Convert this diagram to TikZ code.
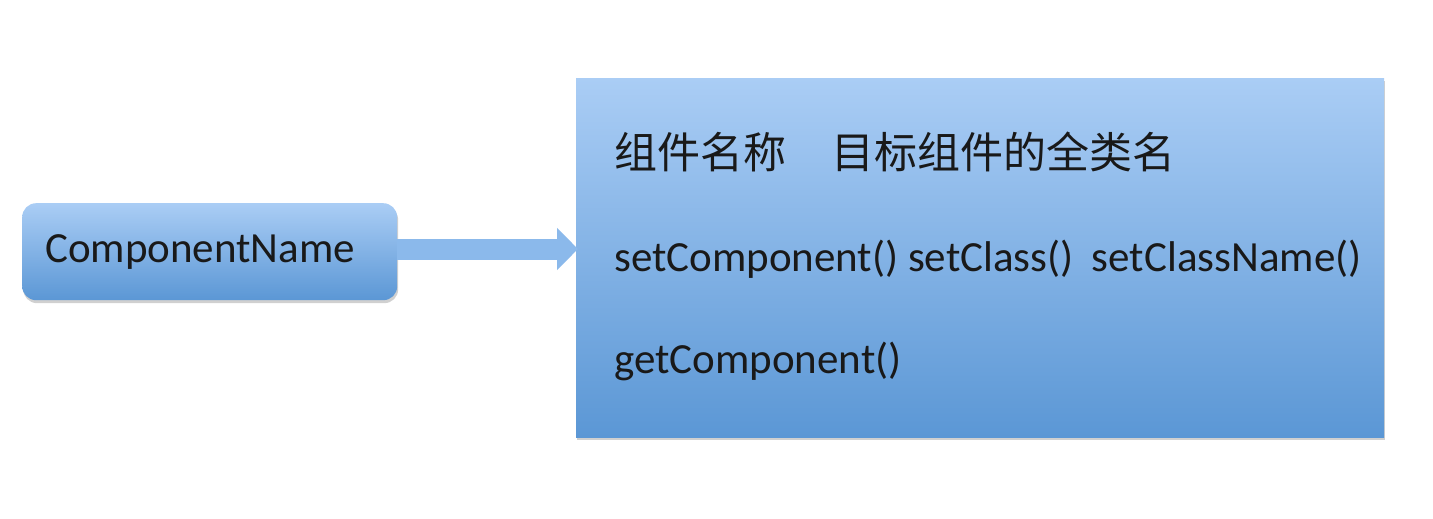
\documentclass[tikz,border=0pt]{standalone}
\usepackage{fontspec}
\setmainfont{Carlito}
\newfontfamily\cjk{Noto Sans CJK SC}
\usetikzlibrary{shadows,arrows.meta}
\definecolor{topblue}{HTML}{AACDF5}
\definecolor{botblue}{HTML}{5B97D5}
\definecolor{arrowblue}{HTML}{8BB9EB}
\tikzset{
  boxshade/.style={top color=topblue, bottom color=botblue, draw=none,
    drop shadow={shadow xshift=1pt, shadow yshift=-3pt, opacity=0.3, fill=black!60}},
  label text/.style={font=\fontsize{43}{50}\selectfont, text=black!90, inner sep=0pt, anchor=base west},
}
\begin{document}
\begin{tikzpicture}[x=1pt,y=-1pt]
\useasboundingbox (0,0) rectangle (1433,519);
\fill[white] (0,0) rectangle (1433,519);
% left box
\node[boxshade, rounded corners=14pt, minimum width=375pt, minimum height=97pt, anchor=north west, inner sep=0pt] (cn) at (22,203) {};
\node[label text, anchor=base west] (cnt) at (45,262) {ComponentName};
% right box
\node[boxshade, minimum width=808pt, minimum height=359pt, anchor=north west, inner sep=0pt] (tgt) at (576,78) {};
\node[label text] (l1) at (614,168) {\cjk 组件名称\hspace{1.05em}目标组件的全类名};
\node[label text] (l2) at (614,271) {setComponent() setClass()\hspace{0.2em} setClassName()};
\node[label text] (l3) at (614,373) {getComponent()};
% arrow
\draw[arrowblue, line width=21pt, -{Triangle[width=41pt,length=21pt]}, shorten >=-2pt] (cn.east |- 0,249) -- (tgt.west |- 0,249);
\end{tikzpicture}
\end{document}
